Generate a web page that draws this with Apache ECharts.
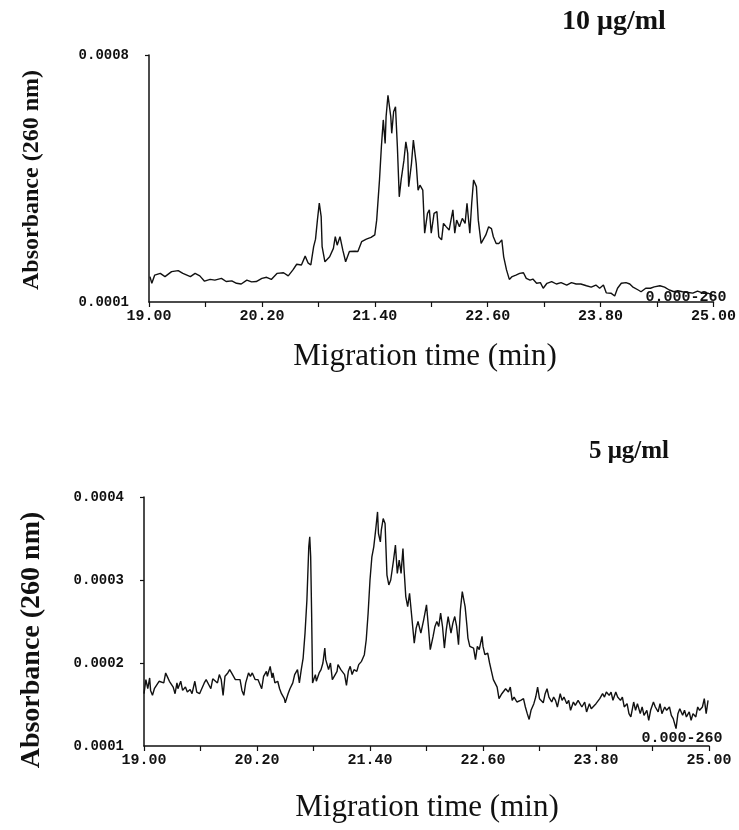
<!DOCTYPE html>
<html>
<head>
<meta charset="utf-8">
<script src="https://cdn.jsdelivr.net/npm/echarts@6/dist/echarts.min.js"></script>
<style>
  html, body { margin: 0; padding: 0; background: #fff; }
  #chart { width: 739px; height: 830px; }
</style>
</head>
<body>
<div id="chart"></div>
<script>
// Electropherograms at 260 nm, absorbance given in units of 1e-4 AU.
// Each entry: [migration time (min), absorbance x 1e-4]
const trace10 = [
  [19.01,1.72],[19.03,1.53],[19.06,1.76],[19.12,1.81],[19.17,1.72],[19.24,1.86],[19.31,1.89],[19.36,1.81],
  [19.44,1.72],[19.49,1.81],[19.54,1.74],[19.59,1.59],[19.65,1.64],[19.70,1.62],[19.77,1.67],[19.82,1.58],
  [19.88,1.60],[19.93,1.53],[19.98,1.51],[20.04,1.62],[20.09,1.57],[20.14,1.58],[20.20,1.67],[20.25,1.70],
  [20.30,1.64],[20.36,1.81],[20.43,1.83],[20.48,1.74],[20.53,1.91],[20.57,2.07],[20.62,2.05],[20.66,2.30],
  [20.69,2.11],[20.72,2.05],[20.75,2.57],[20.77,2.78],[20.79,3.32],[20.81,3.80],[20.83,3.42],[20.84,2.57],
  [20.87,2.14],[20.89,2.10],[20.92,2.28],[20.96,2.52],[20.98,2.85],[21.00,2.61],[21.03,2.85],[21.06,2.47],
  [21.09,2.14],[21.13,2.43],[21.19,2.44],[21.22,2.43],[21.26,2.71],[21.31,2.78],[21.36,2.83],[21.40,2.90],
  [21.42,3.32],[21.45,4.46],[21.47,5.40],[21.49,6.16],[21.51,5.49],[21.52,6.25],[21.54,6.86],[21.57,6.25],
  [21.58,5.78],[21.60,6.39],[21.62,6.53],[21.64,5.40],[21.66,3.98],[21.68,4.46],[21.71,5.02],[21.73,5.54],
  [21.75,5.21],[21.76,4.27],[21.79,4.93],[21.81,5.59],[21.84,4.93],[21.86,4.17],
  [21.88,4.31],[21.91,4.17],[21.93,2.95],[21.96,3.51],[21.98,3.61],[22.00,2.95],[22.03,3.51],[22.06,3.56],
  [22.08,2.85],[22.11,2.76],[22.13,3.23],[22.16,3.13],[22.19,3.04],[22.23,3.61],[22.25,2.95],[22.27,3.32],
  [22.30,3.13],[22.33,3.37],[22.36,3.23],[22.38,3.80],[22.41,2.95],[22.43,3.80],[22.45,4.46],[22.48,4.27],
  [22.50,3.32],[22.53,2.66],[22.55,2.66],[22.58,2.90],[22.61,3.13],[22.64,3.08],[22.66,2.85],[22.69,2.66],
  [22.72,2.66],[22.75,2.76],[22.77,2.28],[22.80,1.91],[22.83,1.64],[22.86,1.72],[22.90,1.76],[22.94,1.81],
  [22.98,1.83],[23.01,1.67],[23.05,1.62],[23.08,1.65],[23.12,1.53],[23.16,1.55],[23.19,1.39],[23.23,1.53],
  [23.28,1.58],[23.33,1.51],[23.38,1.55],[23.44,1.48],[23.49,1.55],[23.54,1.51],[23.59,1.51],[23.65,1.46],
  [23.70,1.42],[23.75,1.48],[23.79,1.39],[23.83,1.48],[23.86,1.26],[23.91,1.25],[23.95,1.17],[23.98,1.39],
  [24.02,1.53],[24.07,1.55],[24.11,1.51],[24.14,1.43],[24.20,1.34],[24.23,1.29],[24.28,1.39],[24.33,1.39],
  [24.37,1.43],[24.43,1.46],[24.48,1.42],[24.53,1.34],[24.58,1.29],[24.62,1.32],[24.67,1.29],[24.73,1.27],
  [24.78,1.25],[24.83,1.31],[24.89,1.25],[24.94,1.25],[24.99,1.20]
];

const trace5 = [
  [19.00,1.63],[19.02,1.80],[19.04,1.69],[19.06,1.82],[19.07,1.67],[19.09,1.61],[19.11,1.69],[19.13,1.67],
  [19.16,1.78],[19.18,1.80],[19.21,1.76],[19.23,1.88],[19.25,1.83],[19.27,1.78],[19.29,1.80],[19.31,1.71],
  [19.33,1.63],[19.35,1.76],[19.36,1.69],[19.39,1.78],[19.41,1.67],[19.44,1.71],[19.46,1.65],[19.49,1.68],
  [19.51,1.63],[19.54,1.78],[19.56,1.65],[19.59,1.63],[19.61,1.61],[19.64,1.76],[19.66,1.80],[19.68,1.78],
  [19.71,1.69],[19.73,1.81],[19.75,1.82],[19.78,1.76],[19.80,1.86],[19.82,1.80],[19.84,1.61],[19.86,1.84],
  [19.89,1.88],[19.91,1.92],[19.93,1.88],[19.95,1.90],[19.97,1.80],[19.99,1.82],[20.02,1.80],[20.04,1.67],
  [20.06,1.61],[20.08,1.76],[20.11,1.88],[20.13,1.84],[20.15,1.88],[20.18,1.80],[20.21,1.80],[20.23,1.78],
  [20.25,1.69],[20.27,1.84],[20.30,1.90],[20.31,1.84],[20.34,1.96],[20.36,1.82],[20.37,1.88],[20.39,1.76],
  [20.42,1.78],[20.44,1.69],[20.46,1.63],[20.49,1.57],[20.50,1.52],[20.53,1.63],[20.55,1.69],[20.58,1.76],
  [20.60,1.86],[20.63,1.92],[20.65,1.76],[20.67,1.92],[20.69,2.06],[20.71,2.36],[20.73,2.76],[20.75,3.40],
  [20.76,3.52],[20.77,3.28],[20.78,2.60],[20.79,1.76],[20.82,1.86],[20.83,1.78],[20.86,1.88],[20.88,1.92],
  [20.90,2.00],[20.92,2.18],[20.93,2.04],[20.95,2.02],[20.96,1.92],[20.98,2.00],[21.00,1.80],[21.02,1.84],
  [21.05,1.90],[21.06,1.98],[21.09,1.92],[21.11,1.94],[21.13,1.86],[21.15,1.73],[21.17,1.90],[21.19,1.96],
  [21.21,1.86],[21.23,1.92],[21.26,1.90],[21.28,1.98],[21.31,2.02],[21.34,2.10],[21.36,2.28],[21.38,2.60],
  [21.40,3.00],[21.42,3.28],[21.44,3.40],[21.46,3.60],[21.48,3.82],[21.49,3.56],[21.51,3.46],[21.52,3.60],
  [21.54,3.74],[21.56,3.68],[21.58,3.06],[21.60,2.94],[21.62,3.00],[21.65,3.24],[21.67,3.42],[21.69,3.08],
  [21.71,3.24],[21.73,3.08],[21.75,3.38],[21.76,3.16],[21.78,2.80],[21.80,2.68],[21.82,2.84],[21.84,2.60],
  [21.87,2.24],[21.89,2.42],[21.91,2.50],[21.94,2.36],[21.97,2.52],[21.98,2.54],
  [22.00,2.70],[22.02,2.44],[22.04,2.16],[22.07,2.32],[22.09,2.44],[22.11,2.50],[22.13,2.44],[22.15,2.60],
  [22.17,2.44],[22.19,2.18],[22.21,2.40],[22.23,2.56],[22.26,2.36],[22.28,2.48],[22.30,2.56],[22.32,2.44],
  [22.34,2.22],[22.36,2.64],[22.38,2.86],[22.41,2.68],[22.43,2.44],[22.44,2.30],[22.46,2.20],[22.48,2.22],
  [22.50,2.18],[22.52,2.04],[22.54,2.20],[22.56,2.16],[22.59,2.32],[22.60,2.20],[22.62,2.10],[22.65,2.12],
  [22.67,2.00],[22.69,1.90],[22.71,1.80],[22.73,1.78],[22.75,1.71],[22.77,1.57],[22.80,1.63],[22.82,1.61],
  [22.84,1.69],[22.87,1.65],[22.89,1.71],[22.91,1.55],[22.93,1.59],[22.96,1.53],[22.98,1.51],[23.00,1.55],
  [23.03,1.57],[23.05,1.47],[23.07,1.39],[23.09,1.32],[23.11,1.43],[23.14,1.51],[23.16,1.59],[23.18,1.71],
  [23.20,1.57],[23.22,1.59],[23.24,1.52],[23.26,1.63],[23.28,1.69],[23.30,1.59],[23.33,1.53],[23.35,1.59],
  [23.37,1.55],[23.39,1.47],[23.42,1.63],[23.44,1.55],[23.46,1.59],[23.49,1.51],[23.51,1.55],[23.53,1.43],
  [23.56,1.53],[23.58,1.49],[23.61,1.55],[23.63,1.53],[23.65,1.47],[23.68,1.53],[23.70,1.41],[23.73,1.51],
  [23.75,1.45],[23.77,1.47],[23.80,1.51],[23.82,1.53],[23.84,1.57],[23.87,1.63],[23.89,1.59],[23.91,1.65],
  [23.94,1.61],[23.96,1.65],[23.98,1.55],[24.01,1.65],[24.03,1.59],[24.06,1.55],[24.08,1.59],[24.10,1.47],
  [24.13,1.51],[24.15,1.39],[24.17,1.35],[24.20,1.53],[24.22,1.43],[24.24,1.51],[24.27,1.39],[24.29,1.47],
  [24.31,1.37],[24.34,1.43],[24.36,1.31],[24.38,1.43],[24.41,1.53],[24.43,1.47],[24.46,1.41],[24.48,1.51],
  [24.50,1.39],[24.53,1.47],[24.55,1.43],[24.58,1.47],[24.60,1.37],[24.62,1.33],[24.65,1.21],[24.67,1.39],
  [24.69,1.45],[24.72,1.37],[24.74,1.43],[24.76,1.35],[24.79,1.41],[24.81,1.31],[24.83,1.39],[24.86,1.35],
  [24.88,1.47],[24.90,1.43],[24.93,1.47],[24.95,1.57],[24.97,1.39],[24.99,1.55]
];

// Axis ticks and labels
const timeTicks = [19.0, 19.6, 20.2, 20.8, 21.4, 22.0, 22.6, 23.2, 23.8, 24.4, 25.0];
const timeLabels = [19.0, 20.2, 21.4, 22.6, 23.8, 25.0];
const absTicksTop = [0.0008];
const absLabelsTop = [0.0001, 0.0008];
const absTicksBottom = [0.0002, 0.0003, 0.0004];
const absLabelsBottom = [0.0001, 0.0002, 0.0003, 0.0004];

const toAbs = (trace) => trace.map(([t, a]) => [t, a * 1e-4]);

const mono = '"Liberation Mono", "DejaVu Sans Mono", monospace';
const serif = '"Liberation Serif", "DejaVu Serif", serif';
const ink = '#111';

function timeAxis(gridIndex) {
  return {
    type: 'value', gridIndex, min: 19, max: 25,
    axisLine: { show: true, onZero: false, lineStyle: { color: ink, width: 1.5 } },
    axisTick: { show: true, inside: false, length: 5, customValues: timeTicks, lineStyle: { color: ink, width: 1.2 } },
    axisLabel: {
      customValues: timeLabels, margin: 7,
      formatter: (v) => v.toFixed(2),
      fontFamily: mono, fontSize: 15, fontWeight: 'bold', color: ink
    },
    splitLine: { show: false }
  };
}

function absAxis(gridIndex, min, max, ticks, labels) {
  return {
    type: 'value', gridIndex, min, max,
    axisLine: { show: true, onZero: false, lineStyle: { color: ink, width: 1.5 } },
    axisTick: { show: true, length: 4, customValues: ticks, lineStyle: { color: ink, width: 1.2 } },
    axisLabel: {
      customValues: labels, margin: 20,
      formatter: (v) => v.toFixed(4),
      fontFamily: mono, fontSize: 14, fontWeight: 'bold', color: ink
    },
    splitLine: { show: false }
  };
}

function freeText(text, x, y, font, opts) {
  return Object.assign({
    type: 'text', x, y,
    style: { text, font, fill: ink, align: 'center', verticalAlign: 'middle' }
  }, opts || {});
}

const chart = echarts.init(document.getElementById('chart'), null, { renderer: 'canvas' });

chart.setOption({
  backgroundColor: '#fff',
  animation: false,
  grid: [
    { left: 149, top: 55, width: 565, height: 247 },
    { left: 144, top: 497, width: 565, height: 249 }
  ],
  xAxis: [timeAxis(0), timeAxis(1)],
  yAxis: [
    absAxis(0, 0.0001, 0.0008, absTicksTop, absLabelsTop),
    absAxis(1, 0.0001, 0.0004, absTicksBottom, absLabelsBottom)
  ],
  series: [
    {
      name: '10 μg/ml', type: 'line', xAxisIndex: 0, yAxisIndex: 0,
      data: toAbs(trace10), showSymbol: false, smooth: false,
      lineStyle: { color: ink, width: 1.4 }
    },
    {
      name: '5 μg/ml', type: 'line', xAxisIndex: 1, yAxisIndex: 1,
      data: toAbs(trace5), showSymbol: false, smooth: false,
      lineStyle: { color: ink, width: 1.4 }
    }
  ],
  graphic: [
    freeText('10 μg/ml', 614, 22, 'bold 28px ' + serif),
    freeText('5 μg/ml', 629, 452, 'bold 25px ' + serif),
    freeText('Absorbance (260 nm)', 32, 180, 'bold 24px ' + serif, { rotation: Math.PI / 2 }),
    freeText('Absorbance (260 nm)', 32, 640, 'bold 28px ' + serif, { rotation: Math.PI / 2 }),
    freeText('Migration time (min)', 425, 357, '31px ' + serif),
    freeText('Migration time (min)', 427, 808, '31px ' + serif),
    freeText('0.000-260', 686, 297, 'bold 15px ' + mono),
    freeText('0.000-260', 682, 738, 'bold 15px ' + mono)
  ]
});
</script>
</body>
</html>
